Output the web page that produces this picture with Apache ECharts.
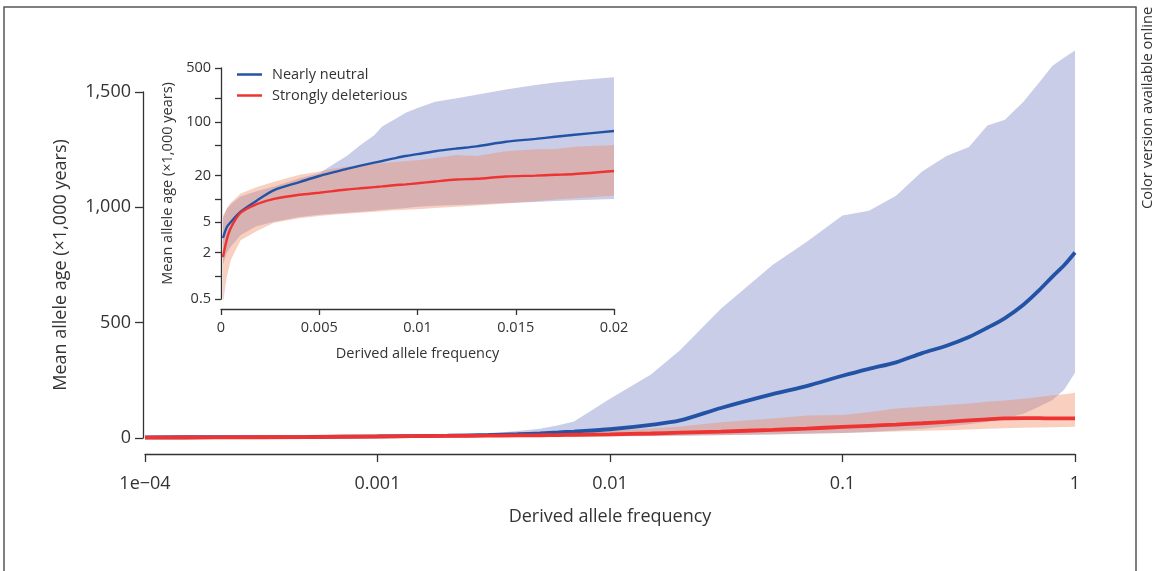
<!DOCTYPE html>
<html>
<head>
<meta charset="utf-8">
<script src="https://cdn.jsdelivr.net/npm/echarts@6/dist/echarts.min.js"></script>
<style>
  html, body { margin: 0; padding: 0; background: #fff; }
  #chart { width: 1165px; height: 571px; }
</style>
</head>
<body>
<div id="chart"></div>
<script>
// main panel (log x)
const mainFreq = [0.0001, 0.0002, 0.0005, 0.001, 0.002, 0.003, 0.004, 0.005, 0.006, 0.007, 0.01, 0.015, 0.02, 0.03, 0.05, 0.07, 0.1, 0.13, 0.17, 0.22, 0.28, 0.35, 0.42, 0.5, 0.6, 0.7, 0.8, 0.9, 1.0];
const mainNeutral = [3, 3.5, 5, 7, 10, 13, 16.5, 20, 24, 28, 38, 57, 76, 130, 190, 225, 270, 300, 328, 368, 400, 438, 478, 520, 578, 640, 700, 750, 804];
const mainNeutralLo = [1.4, 1.8, 2.4, 3.4, 4.5, 5.1, 5.7, 6.2, 6.6, 6.9, 7.9, 8.8, 10, 12, 15, 18, 22, 26, 32, 40, 50, 60, 70, 85, 105, 135, 165, 210, 283];
const mainNeutralHi = [5.6, 7, 8.5, 10.7, 14, 20, 30, 40, 55, 72, 170, 275, 380, 560, 750, 850, 965, 985, 1050, 1155, 1223, 1262, 1355, 1380, 1458, 1540, 1614, 1650, 1680];
const mainDel = [1.75, 2.5, 4.2, 6.6, 9, 10, 11.3, 12, 13, 14, 16, 19.5, 23, 28, 35, 41, 48, 53, 58, 64, 70, 76, 81, 85, 86, 86, 85, 85, 85];
const mainDelLo = [0.45, 1, 1.6, 2.9, 4, 5, 5.6, 6, 6.3, 6.6, 7.3, 8.7, 11, 13, 16, 19, 22, 25, 28, 31, 34, 37, 40, 42, 44, 45, 47, 48, 49];
const mainDelHi = [6, 7.5, 9, 11.7, 15, 17, 20.5, 22.6, 25, 27, 32, 41, 50, 68, 85, 98, 100, 112, 128, 135, 143, 150, 157, 163, 170, 178, 185, 190, 196];

// inset panel (linear x, log y)
const insetFreq = [0.0001, 0.0003, 0.0005, 0.001, 0.0018, 0.0027, 0.004, 0.005, 0.0057, 0.0064, 0.0071, 0.0078, 0.0082, 0.0088, 0.0094, 0.01, 0.0109, 0.012, 0.013, 0.0145, 0.016, 0.017, 0.018, 0.02];
const insetNeutral = [3.1, 4.3, 5.0, 6.8, 9.4, 13, 16.5, 19.8, 22, 24.5, 27, 29.5, 31, 33.5, 36, 38, 41.5, 45, 48, 55, 60, 64, 68, 76];
const insetNeutralLo = [1.4, 2.0, 2.4, 3.4, 4.4, 5.05, 5.8, 6.2, 6.4, 6.6, 6.8, 7.0, 7.2, 7.4, 7.6, 7.9, 8.1, 8.3, 8.5, 8.8, 9.1, 9.4, 9.6, 9.95];
const insetNeutralHi = [5.6, 7.5, 8.5, 10.7, 12.5, 14.5, 18.5, 21.5, 28, 36, 50, 67, 87, 106, 131, 151, 182, 202, 225, 262, 300, 323, 345, 378];
const insetDel = [1.75, 3.0, 4.2, 6.6, 8.5, 10, 11.3, 12, 12.6, 13.2, 13.7, 14.2, 14.5, 15, 15.4, 15.9, 16.8, 17.8, 18.2, 19.5, 20, 20.5, 21, 23];
const insetDelLo = [0.45, 0.98, 1.6, 2.9, 3.8, 4.9, 5.6, 6, 6.2, 6.4, 6.6, 6.8, 6.9, 7.1, 7.2, 7.3, 7.6, 7.9, 8.2, 8.7, 9.3, 9.8, 10.2, 11];
const insetDelHi = [6, 7.5, 8.9, 11.7, 14.1, 16.7, 20.5, 22.6, 24.5, 26, 27.5, 28.5, 29, 30, 31, 31.8, 34, 37, 36, 41.6, 44, 44.5, 47.5, 50];

const mainYTicks = [0, 500, 1000, 1500];
const mainXTickLabels = ["1e\u221204", "0.001", "0.01", "0.1", "1"];
const insetXTickLabels = ["0", "0.005", "0.01", "0.015", "0.02"];
const insetYTicks = [0.5, 1, 2, 5, 10, 20, 50, 100, 200, 500];
const insetYLabels = [0.5, 2, 5, 20, 100, 500];

const FONT = "Open Sans";
const TXT = "#333";
const BLUE = "#2353a5";
const RED = "#ee3333";
const BLUE_BAND = "#c9cde8";
const RED_BAND = "rgba(240,138,98,0.4)";

function zip(xs, ys) {
  return xs.map((x, i) => [x, ys[i]]);
}

// band polygon built from data through the axis scales
function bandSeries(xs, lo, hi, color, xi, yi) {
  return {
    type: "custom",
    xAxisIndex: xi,
    yAxisIndex: yi,
    clip: false,
    silent: true,
    data: xs.map((x, i) => [x, lo[i], hi[i]]),
    renderItem: function (params, api) {
      if (params.dataIndex !== 0) return;
      const top = xs.map((x, i) => api.coord([x, hi[i]]));
      const bottom = xs.map((x, i) => api.coord([x, lo[i]])).reverse();
      return {
        type: "polygon",
        shape: { points: top.concat(bottom) },
        style: { fill: color },
      };
    },
  };
}

function lineSeries(name, xs, ys, color, width, xi, yi) {
  return {
    name: name,
    type: "line",
    xAxisIndex: xi,
    yAxisIndex: yi,
    data: zip(xs, ys),
    symbol: "none",
    smooth: 0.3,
    clip: false,
    lineStyle: { color: color, width: width },
    itemStyle: { color: color },
    z: 3,
  };
}

function axisLine() {
  return { show: true, onZero: false, lineStyle: { color: TXT, width: 1.3 } };
}
function axisTick(len, extra) {
  return Object.assign({ show: true, length: len, lineStyle: { color: TXT, width: 1.3 } }, extra || {});
}

const chart = echarts.init(document.getElementById("chart"), null, { renderer: "canvas" });

const option = {
  animation: false,
  backgroundColor: "#fff",
  textStyle: { fontFamily: FONT },
  legend: {
    data: ["Nearly neutral", "Strongly deleterious"],
    orient: "vertical",
    left: 232,
    top: 62,
    icon: "rect",
    itemWidth: 25,
    itemHeight: 2.5,
    itemGap: 6,
    textStyle: { fontFamily: FONT, fontSize: 14.5, color: TXT, padding: [0, 0, 0, 5] },
  },
  grid: [
    { left: 145, right: 90, top: 92, bottom: 133 },
    { left: 221, right: 551, top: 68, bottom: 272 },
  ],
  xAxis: [
    {
      type: "log",
      logBase: 10,
      min: 0.0001,
      max: 1,
      gridIndex: 0,
      offset: 16,
      axisLine: axisLine(),
      axisTick: axisTick(8),
      minorTick: { show: false },
      splitLine: { show: false },
      axisLabel: {
        fontFamily: FONT,
        fontSize: 18,
        color: TXT,
        margin: 21,
        formatter: (v) => mainXTickLabels[Math.round(Math.log10(v)) + 4],
      },
      name: "Derived allele frequency",
      nameLocation: "middle",
      nameGap: 54,
      nameTextStyle: { fontFamily: FONT, fontSize: 18, color: TXT },
    },
    {
      type: "value",
      min: 0,
      max: 0.02,
      interval: 0.005,
      gridIndex: 1,
      offset: 10,
      axisLine: axisLine(),
      axisTick: axisTick(6),
      splitLine: { show: false },
      axisLabel: {
        fontFamily: FONT,
        fontSize: 14.5,
        color: TXT,
        margin: 11,
        formatter: (v) => insetXTickLabels[Math.round(v / 0.005)],
      },
      name: "Derived allele frequency",
      nameLocation: "middle",
      nameGap: 37,
      nameTextStyle: { fontFamily: FONT, fontSize: 14.5, color: TXT },
    },
  ],
  yAxis: [
    {
      type: "value",
      min: mainYTicks[0],
      max: mainYTicks[mainYTicks.length - 1],
      interval: 500,
      gridIndex: 0,
      offset: 2,
      axisLine: axisLine(),
      axisTick: axisTick(8),
      splitLine: { show: false },
      axisLabel: {
        fontFamily: FONT,
        fontSize: 18,
        color: TXT,
        margin: 12,
        formatter: (v) => v.toLocaleString("en-US"),
      },
      name: "Mean allele age (\u00d71,000 years)",
      nameLocation: "middle",
      nameRotate: 90,
      nameGap: 73,
      nameTextStyle: { fontFamily: FONT, fontSize: 18, color: TXT },
    },
    {
      type: "log",
      logBase: 10,
      min: 0.5,
      max: 500,
      gridIndex: 1,
      axisLine: axisLine(),
      axisTick: axisTick(6, { customValues: insetYTicks }),
      minorTick: { show: false },
      splitLine: { show: false },
      axisLabel: {
        fontFamily: FONT,
        fontSize: 14.5,
        color: TXT,
        margin: 10,
        customValues: insetYLabels,
        formatter: (v) => String(+v.toPrecision(3)),
      },
      name: "Mean allele age (\u00d71,000 years)",
      nameLocation: "middle",
      nameRotate: 90,
      nameGap: 46,
      nameTextStyle: { fontFamily: FONT, fontSize: 14.5, color: TXT },
    },
  ],
  series: [
    bandSeries(mainFreq, mainNeutralLo, mainNeutralHi, BLUE_BAND, 0, 0),
    bandSeries(mainFreq, mainDelLo, mainDelHi, RED_BAND, 0, 0),
    lineSeries("Nearly neutral", mainFreq, mainNeutral, BLUE, 3.8, 0, 0),
    lineSeries("Strongly deleterious", mainFreq, mainDel, RED, 3.8, 0, 0),
    bandSeries(insetFreq, insetNeutralLo, insetNeutralHi, BLUE_BAND, 1, 1),
    bandSeries(insetFreq, insetDelLo, insetDelHi, RED_BAND, 1, 1),
    lineSeries("Nearly neutral", insetFreq, insetNeutral, BLUE, 2.4, 1, 1),
    lineSeries("Strongly deleterious", insetFreq, insetDel, RED, 2.4, 1, 1),
  ],
  graphic: [
    {
      type: "rect",
      shape: { x: 4, y: 7, width: 1132, height: 600 },
      style: { fill: "none", stroke: "#555", lineWidth: 1.5 },
      silent: true,
    },
    {
      type: "text",
      x: 1148,
      y: 209,
      rotation: Math.PI / 2,
      style: {
        text: "Color version available online",
        fontFamily: FONT,
        fontSize: 14.8,
        fill: TXT,
        align: "left",
        verticalAlign: "middle",
      },
      silent: true,
    },
  ],
};

chart.setOption(option);
</script>
</body>
</html>
